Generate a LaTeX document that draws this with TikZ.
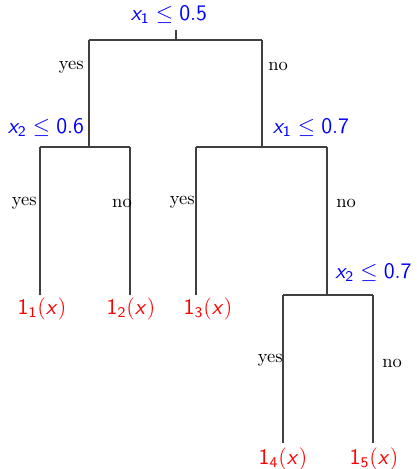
\documentclass[tikz,border=0pt]{standalone}
\DeclareMathAlphabet{\mathsfit}{OT1}{cmss}{m}{sl}
\newcommand{\vx}{\mathsfit{x}}
\begin{document}
\begin{tikzpicture}[x=0.54pt,y=-0.54pt,
  edge/.style={draw=black!75,line width=0.6pt},
  split/.style={text=blue,font=\large,inner sep=0pt},
  leaf/.style={text=red,font=\large,inner sep=0pt},
  ans/.style={font=\normalsize,inner sep=0pt}]
\useasboundingbox (0,0) rectangle (416,469);
% split labels
\node[split] (s0) at (169,15) {$\vx_{\mathsf{1}} \le \mathsf{0.5}$};
\node[split] (s1) at (46,128) {$\vx_{\mathsf{2}} \le \mathsf{0.6}$};
\node[split] (s2) at (311,128) {$\vx_{\mathsf{1}} \le \mathsf{0.7}$};
\node[split,anchor=west] (s3) at (335,273) {$\vx_{\mathsf{2}} \le \mathsf{0.7}$};
% junction coordinates
\coordinate (r0) at (176,30);
\coordinate (r) at (176,40);
\coordinate (rl) at (89,40);
\coordinate (rr) at (262,40);
\coordinate (a) at (89,147);
\coordinate (al) at (40,147);
\coordinate (ar) at (130,147);
\coordinate (b) at (262,147);
\coordinate (bl) at (196,147);
\coordinate (br) at (327,147);
\coordinate (all) at (40,295);
\coordinate (arr) at (130,295);
\coordinate (bll) at (196,295);
\coordinate (c) at (327,295);
\coordinate (cl) at (283,295);
\coordinate (cr) at (373,295);
\coordinate (cll) at (283,443);
\coordinate (crr) at (373,443);
% edges
\draw[edge] (r0) -- (r);
\draw[edge] (rl) -- (rr);
\draw[edge] (rl) -- (a);
\draw[edge] (rr) -- (b);
\draw[edge] (al) -- (ar);
\draw[edge] (al) -- (all);
\draw[edge] (ar) -- (arr);
\draw[edge] (bl) -- (br);
\draw[edge] (bl) -- (bll);
\draw[edge] (br) -- (c);
\draw[edge] (cl) -- (cr);
\draw[edge] (cl) -- (cll);
\draw[edge] (cr) -- (crr);
% yes / no
\node[ans,anchor=east] (y0) at (84,67) {yes};
\node[ans,anchor=west] (n0) at (268,66) {no};
\node[ans,anchor=east] (y1) at (37,203) {yes};
\node[ans] (n1) at (122,203) {no};
\node[ans,anchor=east] (y2) at (195,202) {yes};
\node[ans,anchor=west] (n2) at (336,203) {no};
\node[ans,anchor=east] (y3) at (283,360) {yes};
\node[ans,anchor=west] (n3) at (382,363) {no};
% leaves
\node[leaf] (l1) at (42,309) {$\mathsf{1}_{\mathsf{1}}\mathsf{(}\vx\mathsf{)}$};
\node[leaf] (l2) at (131,309) {$\mathsf{1}_{\mathsf{2}}\mathsf{(}\vx\mathsf{)}$};
\node[leaf] (l3) at (208,309) {$\mathsf{1}_{\mathsf{3}}\mathsf{(}\vx\mathsf{)}$};
\node[leaf] (l4) at (283,459) {$\mathsf{1}_{\mathsf{4}}\mathsf{(}\vx\mathsf{)}$};
\node[leaf] (l5) at (374,459) {$\mathsf{1}_{\mathsf{5}}\mathsf{(}\vx\mathsf{)}$};
\end{tikzpicture}
\end{document}
